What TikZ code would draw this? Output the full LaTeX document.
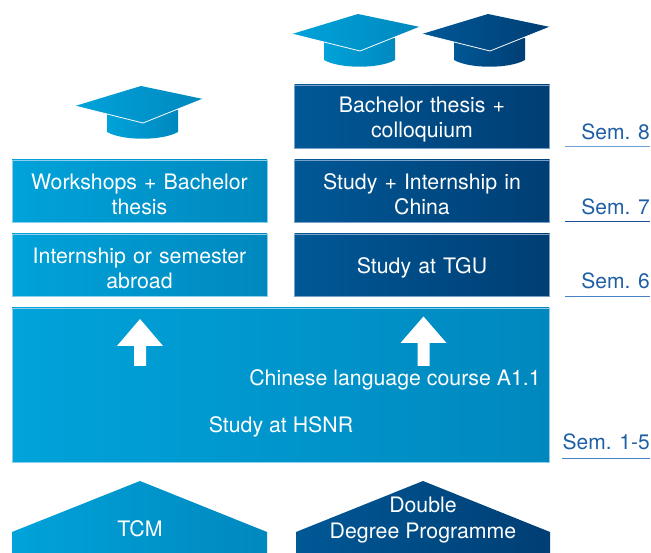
\documentclass[tikz,border=0pt]{standalone}
\usepackage{fontspec}
\setmainfont{TeX Gyre Heros}
\definecolor{lightL}{RGB}{0,163,218}
\definecolor{lightR}{RGB}{0,136,190}
\definecolor{darkL}{RGB}{0,88,150}
\definecolor{darkR}{RGB}{0,62,116}
\definecolor{lightB}{RGB}{140,205,235}
\definecolor{darkB}{RGB}{120,160,200}
\definecolor{semtext}{RGB}{30,95,165}
\definecolor{semA}{RGB}{110,160,210}
\definecolor{semB}{RGB}{30,80,150}
\definecolor{semC}{RGB}{70,130,195}

\begin{document}
\begin{tikzpicture}[x=1pt,y=-1pt,
    box/.style={rectangle, minimum width=255pt, minimum height=62pt, inner sep=0pt,
      text width=250pt, align=center, text=white, line width=0.8pt,
      font=\fontsize{21.3}{25.5}\selectfont, execute at begin node={\rule{0pt}{22pt}}},
    lightbox/.style={box, left color=lightL, right color=lightR, draw=lightB},
    darkbox/.style={box, left color=darkL, right color=darkR, draw=darkB},
    label/.style={text=white, inner sep=0pt, align=center, font=\fontsize{21.3}{25.5}\selectfont},
    semlabel/.style={text=semtext, inner sep=0pt, anchor=east, font=\fontsize{21}{25}\selectfont}]

      \useasboundingbox (0,0) rectangle (651,553);

      % caps
      \foreach \cx/\cy/\cl/\cr in {360/51/lightL/lightR, 490/51/darkL/darkR, 143/123/lightL/lightR} {
        \shade[left color=\cl, right color=\cr] (\cx-36,\cy-13) -- (\cx-36,\cy+9)
          .. controls (\cx-20,\cy+18) and (\cx+19,\cy+18) .. (\cx+35,\cy+9) -- (\cx+35,\cy-13) -- cycle;
        \shade[left color=\cl, right color=\cr] (\cx-68,\cy-17) -- (\cx-2,\cy-37) -- (\cx+60,\cy-24) -- (\cx,\cy) -- cycle;
        \draw[white, line width=0.8pt] (\cx-68,\cy-17) -- (\cx,\cy) -- (\cx+60,\cy-24);
      }

      % right column
      \node[darkbox, minimum height=63pt] (thesis) at (422,116.5) {Bachelor thesis +\\colloquium};
      \node[darkbox] (china) at (422,191) {Study + Internship in\\China};
      \node[darkbox] (tgu) at (422,265) {Study at TGU};

      % left column
      \node[lightbox] (workshops) at (139.5,191) {Workshops + Bachelor\\thesis};
      \node[lightbox] (abroad) at (139.5,265) {Internship or semester\\abroad};

      % base
      \node[lightbox, minimum width=537pt, minimum height=154pt] (hsnr) at (280.5,385) {};
      \fill[white] (140,319) -- (163,346) -- (146,346) -- (146,366) -- (134,366) -- (134,346) -- (117,346) -- cycle;
      \fill[white] (423.5,316.5) -- (446.5,343) -- (429.5,343) -- (429.5,366) -- (417.5,366) -- (417.5,343) -- (400.5,343) -- cycle;
      \node[label] (chinese) at (395,380) {Chinese language course A1.1};
      \node[label] (hsnrtext) at (281,427) {Study at HSNR};

      % programmes
      \shade[left color=lightL, right color=lightR] (12,553) -- (12,532) -- (140,481) -- (267,532) -- (267,553) -- cycle;
      \shade[left color=darkL, right color=darkR] (296,553) -- (296,532) -- (423,481) -- (550,532) -- (550,553) -- cycle;
      \node[label] (tcm) at (140,529) {TCM};
      \node[label] (ddp) at (423,520) {Double\\Degree Programme};

      % semesters
      \node[semlabel] (sem8) at (650,132) {Sem. 8};
      \node[semlabel] (sem7) at (650,207) {Sem. 7};
      \node[semlabel] (sem6) at (650,281) {Sem. 6};
      \node[semlabel] (sem15) at (650,442) {Sem. 1-5};
      \draw[semA, line width=1pt] (565,147) -- (650,147);
      \draw[semB, line width=1pt] (565,222) -- (650,222);
      \draw[semC, line width=1pt] (565,297) -- (650,297);
      \draw[semC, line width=1pt] (562,458.5) -- (650,458.5);

    \end{tikzpicture}
\end{document}
